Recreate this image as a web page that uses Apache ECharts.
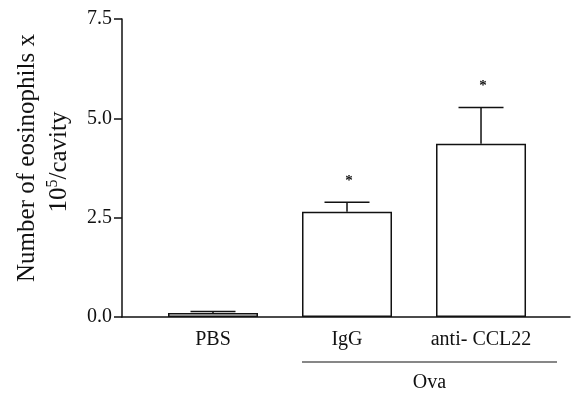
<!DOCTYPE html>
<html>
<head>
<meta charset="utf-8">
<script src="https://cdn.jsdelivr.net/npm/echarts@6/dist/echarts.min.js"></script>
<style>html,body{margin:0;padding:0;background:#fff;}#c{width:572px;height:398px;}</style>
</head>
<body>
<div id="c"></div>
<script>
var categories = ['PBS', 'IgG', 'anti- CCL22'];
var positions = [1, 2, 3];
var means = [0.10, 2.65, 4.36];
var errors = [0.04, 0.24, 0.91];
var significance = ['', '*', '*'];
var yTicks = [0, 2.5, 5.0, 7.5];
var groupLabel = 'Ova';
var groupSpan = [1.664, 3.567];
var yTitle1 = 'Number of eosinophils x';

var serif = "'Liberation Serif', 'Times New Roman', serif";
var chart = echarts.init(document.getElementById('c'), null, {renderer: 'canvas'});

var barData = positions.map(function (p, i) { return [p, means[i]]; });
var errData = positions.map(function (p, i) { return [p, means[i], errors[i], i]; });

chart.setOption({
  animation: false,
  backgroundColor: '#fff',
  grid: {left: 122, right: 2, top: 19, bottom: 81, containLabel: false},
  xAxis: {
    type: 'value', min: 0.321, max: 3.664,
    splitLine: {show: false},
    axisLine: {show: true, onZero: false, lineStyle: {color: '#111', width: 1.5}},
    axisTick: {show: false},
    axisLabel: {
      customValues: positions, margin: 13,
      color: '#111', fontFamily: serif, fontSize: 20,
      formatter: function (v) { var i = positions.indexOf(v); return i >= 0 ? categories[i] : ''; }
    }
  },
  yAxis: {
    type: 'value', min: yTicks[0], max: yTicks[yTicks.length - 1], interval: 2.5,
    splitLine: {show: false},
    axisLine: {show: true, lineStyle: {color: '#111', width: 1.5}},
    axisTick: {show: true, length: 8, lineStyle: {color: '#111', width: 1.5}},
    axisLabel: {color: '#111', fontFamily: serif, fontSize: 20, margin: 10,
      formatter: function (v) { return v.toFixed(1); }}
  },
  graphic: [
    {type: 'text', x: 27, y: 158, rotation: Math.PI / 2,
      style: {text: yTitle1, font: "25px " + serif, fill: '#111', align: 'center', verticalAlign: 'middle'}},
    {type: 'text', x: 59, y: 162, rotation: Math.PI / 2,
      style: {text: '10{sup|5}/cavity', font: "25px " + serif, fill: '#111', align: 'center', verticalAlign: 'middle',
        rich: {sup: {fontSize: 16, fontFamily: serif, padding: [0, 0, 12, 0], fill: '#111'}}}}
  ],
  series: [
    {
      type: 'bar', data: barData, barWidth: 90,
      itemStyle: {color: '#fff', borderColor: '#111', borderWidth: 1.5},
      z: 2
    },
    {
      type: 'custom', data: errData, z: 3,
      renderItem: function (params, api) {
        var x = api.value(0), m = api.value(1), e = api.value(2), i = api.value(3);
        var top = api.coord([x, m]);
        var hi = api.coord([x, m + e]);
        var children = [
          {type: 'line', shape: {x1: top[0], y1: top[1], x2: hi[0], y2: hi[1]}, style: {stroke: '#111', lineWidth: 1.5}},
          {type: 'line', shape: {x1: hi[0] - 22.5, y1: hi[1], x2: hi[0] + 22.5, y2: hi[1]}, style: {stroke: '#111', lineWidth: 1.5}}
        ];
        if (significance[i]) {
          children.push({type: 'text', x: hi[0] + 2, y: hi[1] - 21,
            style: {text: significance[i], font: "bold 15px " + serif, fill: '#111', align: 'center', verticalAlign: 'middle'}});
        }
        return {type: 'group', children: children};
      }
    },
    {
      type: 'custom', data: [groupSpan], z: 3, clip: false,
      renderItem: function (params, api) {
        var a = api.coord([api.value(0), 0]);
        var b = api.coord([api.value(1), 0]);
        var y = a[1] + 45;
        return {type: 'group', children: [
          {type: 'line', shape: {x1: a[0], y1: y, x2: b[0], y2: y}, style: {stroke: '#111', lineWidth: 1.2}},
          {type: 'text', x: (a[0] + b[0]) / 2, y: y + 21,
            style: {text: groupLabel, font: "20px " + serif, fill: '#111', align: 'center', verticalAlign: 'middle'}}
        ]};
      }
    }
  ]
});
</script>
</body>
</html>
